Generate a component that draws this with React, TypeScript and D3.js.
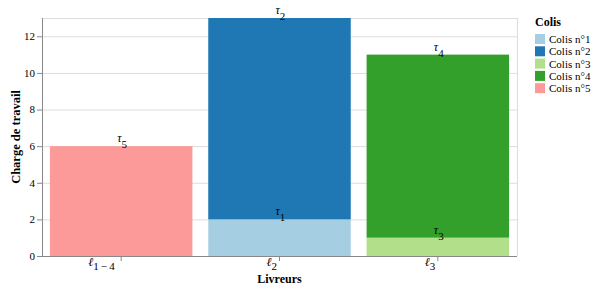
import React from "react";
import * as d3 from "d3";

const livreurs = ["1−4", "2", "3"];
const colis = ["Colis n°1", "Colis n°2", "Colis n°3", "Colis n°4", "Colis n°5"];
const colisIdx = ["1", "2", "3", "4", "5"];
const segLivreur = ["2", "2", "3", "3", "1−4"];
const segValue = [2, 11, 1, 10, 6];
const colors = ["#a6cee3", "#1f78b4", "#b2df8a", "#33a02c", "#fb9a99"];
const yTicks = [0, 2, 4, 6, 8, 10, 12];

const W = 598, H = 287;
const m = { left: 42, right: 517, top: 18, bottom: 256 };
const FONT = "Liberation Serif";

export default function App() {
  const x = d3.scaleBand<string>().domain(livreurs).range([m.left, m.right]).paddingInner(0.1).paddingOuter(0.05);
  const y = d3.scaleLinear().domain([0, 13]).range([m.bottom, m.top]);
  const color = d3.scaleOrdinal<string, string>().domain(colis).range(colors);

  const base: Record<string, number> = {};
  const segs = colis.map((c, i) => {
    const l = segLivreur[i];
    const y0 = base[l] || 0;
    const y1 = y0 + segValue[i];
    base[l] = y1;
    return { c, i, l, y0, y1 };
  });

  return (
    <svg width={W} height={H} fontFamily={FONT} style={{ position: "fixed", left: 0, top: 0, display: "block" }}>
      <rect width={W} height={H} fill="#fff" />
      {yTicks.map((t) => (
        <line key={t} x1={m.left} x2={m.right} y1={y(t) + 0.5} y2={y(t) + 0.5} stroke="#ddd" strokeWidth={1} />
      ))}
      <line x1={m.left} x2={m.right} y1={m.top + 0.5} y2={m.top + 0.5} stroke="#ddd" />
      <line x1={m.right + 0.5} x2={m.right + 0.5} y1={m.top} y2={m.bottom} stroke="#ddd" />
      {segs.map((s) => (
        <rect key={s.c} x={x(s.l)!} width={x.bandwidth()} y={y(s.y1)} height={y(s.y0) - y(s.y1)} fill={color(s.c)} />
      ))}
      {segs.map((s) => (
        <text key={"l" + s.c} fontFamily={FONT} x={x(s.l)! + x.bandwidth() / 2 - 4} y={y(s.y1) - 4} textAnchor="start" fontSize={12} fill="#000">
          <tspan fontStyle="italic">τ</tspan>
          <tspan dy={6} fontSize={11}>{colisIdx[s.i]}</tspan>
        </text>
      ))}
      <line x1={m.left + 0.5} x2={m.left + 0.5} y1={m.top} y2={m.bottom} stroke="#888" />
      {yTicks.map((t) => (
        <g key={"t" + t}>
          <line x1={m.left - 5} x2={m.left} y1={y(t) + 0.5} y2={y(t) + 0.5} stroke="#888" />
          <text fontFamily={FONT} x={m.left - 7} y={y(t)} dy="0.35em" textAnchor="end" fontSize={11} fill="#000">{t}</text>
        </g>
      ))}
      <line x1={m.left} x2={m.right} y1={m.bottom + 0.5} y2={m.bottom + 0.5} stroke="#888" />
      {livreurs.map((l) => {
        const cx = x(l)! + x.bandwidth() / 2;
        const off = 13 + 10 * (l.length - 1);
        return (
          <g key={"x" + l}>
            <line x1={cx} x2={cx} y1={m.bottom} y2={m.bottom + 5} stroke="#888" />
            <text fontFamily={FONT} x={cx - off} y={266} textAnchor="start" fontSize={12} fill="#000">
              <tspan fontStyle="italic">ℓ</tspan>
              <tspan dy={4} fontSize={11}>{l.length > 1 ? l.split("").join("\u2009") : l}</tspan>
            </text>
          </g>
        );
      })}
      <text fontFamily={FONT} x={(m.left + m.right) / 2} y={283} textAnchor="middle" fontSize={12} fontWeight="bold">Livreurs</text>
      <text fontFamily={FONT} transform={`translate(20,${(m.top + m.bottom) / 2}) rotate(-90)`} textAnchor="middle" fontSize={12.5} fontWeight="bold">Charge de travail</text>
      <text fontFamily={FONT} x={535} y={26} fontSize={12} fontWeight="bold">Colis</text>
      {colis.map((c, i) => (
        <g key={"lg" + c} transform={`translate(535,${34 + i * 12.3})`}>
          <rect width={10} height={10} fill={color(c)} />
          <text fontFamily={FONT} x={14} y={9} fontSize={11}>{c}</text>
        </g>
      ))}
    </svg>
  );
}
